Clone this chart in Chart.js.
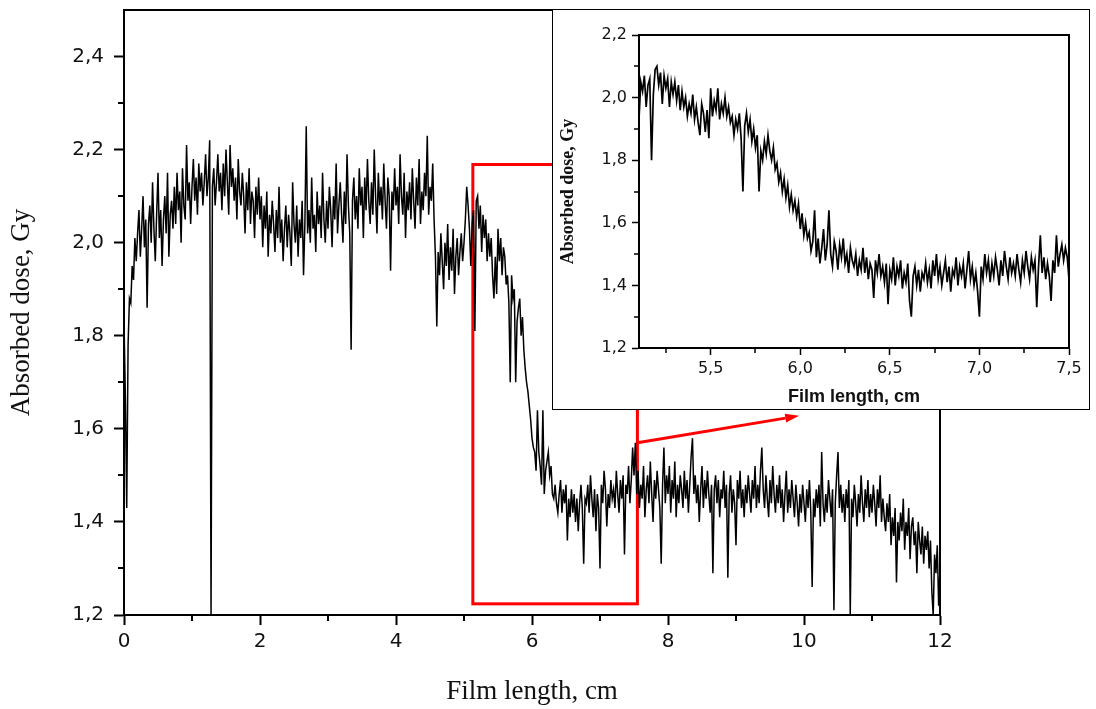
<!DOCTYPE html>
<html>
<head>
<meta charset="utf-8">
<script src="https://cdn.jsdelivr.net/npm/chart.js@4.4.1/dist/chart.umd.min.js"></script>
<style>
  html, body { margin: 0; padding: 0; background: #fff; }
  #wrap { position: relative; width: 1096px; height: 709px; }
  #mainChart { position: absolute; left: 0; top: 0; }
  #inset { position: absolute; left: 552px; top: 9px; width: 536px; height: 399px; border: 1px solid #000; background: #fff; }
  #insetChart { display: block; }
</style>
</head>
<body>
<div id="wrap">
  <canvas id="mainChart" width="1096" height="709"></canvas>
  <div id="inset"><canvas id="insetChart" width="536" height="399"></canvas></div>
</div>
<script>
// Main profile: absorbed dose (Gy) sampled every 0.02 cm from 0 to 12 cm
const mainStart = 0;
const mainStep = 0.02;
const mainDose = [
  1.83, 1.67, 1.43, 1.78, 1.88, 1.87, 1.95, 1.92, 2.01, 1.96,
  2.02, 2.07, 1.97, 2.03, 2.10, 1.99, 2.05, 1.86, 2.04, 2.08,
  2.00, 2.13, 2.03, 1.96, 2.06, 2.15, 2.01, 2.07, 1.95, 2.05,
  2.10, 2.02, 2.15, 1.97, 2.06, 2.09, 2.03, 2.12, 2.04, 2.15,
  2.07, 2.11, 2.00, 2.16, 2.08, 2.05, 2.21, 2.09, 2.13, 2.04,
  2.12, 2.18, 2.09, 2.14, 2.06, 2.17, 2.11, 2.15, 2.08, 2.13,
  2.19, 2.10, 2.14, 2.22, 1.20, 2.12, 2.16, 2.08, 2.13, 2.19,
  2.11, 2.15, 2.07, 2.17, 2.10, 2.20, 2.13, 2.06, 2.21, 2.12,
  2.16, 2.09, 2.14, 2.05, 2.18, 2.11, 2.08, 2.15, 2.10, 2.02,
  2.13, 2.07, 2.16, 2.04, 2.11, 2.09, 2.01, 2.12, 2.06, 2.14,
  2.05, 2.10, 1.99, 2.08, 2.03, 2.11, 1.97, 2.06, 2.02, 2.09,
  2.04, 1.98, 2.07, 2.01, 2.12, 2.00, 2.05, 1.96, 2.03, 2.08,
  1.99, 2.06, 2.02, 1.95, 2.13, 2.04, 2.00, 2.08, 1.97, 2.05,
  2.01, 2.09, 1.93, 2.04, 2.25, 2.02, 2.07, 2.00, 2.14, 2.03,
  2.06, 1.98, 2.11, 2.04, 2.08, 2.01, 2.15, 2.05, 2.00, 2.09,
  2.03, 2.12, 2.07, 1.99, 2.10, 2.05, 2.17, 2.02, 2.08, 2.13,
  2.06, 2.00, 2.11, 2.04, 2.19, 2.08, 2.02, 1.77, 2.09, 2.14,
  2.05, 2.10, 2.03, 2.16, 2.08, 2.12, 2.01, 2.14, 2.07, 2.18,
  2.09, 2.04, 2.13, 2.06, 2.20, 2.10, 2.02, 2.15, 2.08, 2.12,
  2.05, 2.17, 2.09, 2.03, 2.14, 2.10, 1.94, 2.11, 2.07, 2.16,
  2.08, 2.12, 2.04, 2.19, 2.10, 2.06, 2.15, 2.01, 2.11, 2.07,
  2.13, 2.05, 2.16, 2.09, 2.03, 2.14, 2.08, 2.18, 2.04, 2.11,
  2.07, 2.15, 2.10, 2.23, 2.06, 2.12, 2.09, 2.17, 2.05, 1.97,
  1.82, 1.98, 1.93, 2.02, 1.96, 1.90, 2.00, 1.95, 2.04, 1.92,
  1.99, 1.94, 2.03, 1.89, 1.97, 2.01, 1.93, 1.98, 2.02, 1.96,
  2.00, 2.05, 2.12, 2.08, 2.03, 1.95, 2.04, 2.07, 1.81, 2.09,
  2.10, 2.03, 2.08, 1.98, 2.06, 2.01, 2.05, 1.96, 2.02, 1.97,
  2.01, 1.93, 1.88, 1.97, 1.89, 2.03, 1.96, 2.01, 1.93, 1.99,
  1.97, 1.91, 1.93, 1.87, 1.70, 1.93, 1.88, 1.90, 1.70, 1.83,
  1.86, 1.88, 1.80, 1.84, 1.77, 1.73, 1.70, 1.68, 1.65, 1.62,
  1.58, 1.56, 1.55, 1.51, 1.64, 1.55, 1.52, 1.48, 1.64, 1.46,
  1.51, 1.53, 1.55, 1.50, 1.52, 1.46, 1.45, 1.48, 1.44, 1.42,
  1.46, 1.49, 1.42, 1.47, 1.44, 1.48, 1.36, 1.45, 1.41, 1.47,
  1.42, 1.46, 1.40, 1.45, 1.38, 1.44, 1.48, 1.43, 1.31, 1.45,
  1.44, 1.48, 1.42, 1.50, 1.45, 1.41, 1.47, 1.38, 1.46, 1.43,
  1.30, 1.48, 1.44, 1.51, 1.47, 1.39, 1.46, 1.43, 1.49, 1.45,
  1.47, 1.43, 1.51, 1.46, 1.42, 1.49, 1.45, 1.50, 1.33, 1.48,
  1.46, 1.52, 1.44, 1.49, 1.56, 1.50, 1.57, 1.46, 1.51, 1.43,
  1.48, 1.45, 1.52, 1.41, 1.47, 1.50, 1.44, 1.53, 1.46, 1.40,
  1.49, 1.45, 1.51, 1.47, 1.43, 1.31, 1.48, 1.56, 1.44, 1.50,
  1.46, 1.52, 1.42, 1.49, 1.45, 1.53, 1.41, 1.48, 1.44, 1.50,
  1.47, 1.43, 1.51, 1.45, 1.49, 1.42, 1.48, 1.54, 1.58, 1.46,
  1.50, 1.44, 1.48, 1.40, 1.47, 1.52, 1.43, 1.49, 1.45, 1.51,
  1.46, 1.42, 1.48, 1.29, 1.47, 1.50, 1.44, 1.49, 1.41, 1.47,
  1.45, 1.51, 1.43, 1.48, 1.28, 1.46, 1.50, 1.42, 1.47, 1.44,
  1.35, 1.49, 1.45, 1.51, 1.43, 1.47, 1.41, 1.48, 1.44, 1.50,
  1.46, 1.42, 1.49, 1.45, 1.52, 1.43, 1.48, 1.44, 1.51, 1.56,
  1.47, 1.43, 1.50, 1.45, 1.41, 1.49, 1.44, 1.52, 1.46, 1.42,
  1.48, 1.44, 1.50, 1.43, 1.47, 1.40, 1.46, 1.51, 1.42, 1.47,
  1.43, 1.49, 1.45, 1.41, 1.48, 1.44, 1.39, 1.46, 1.42, 1.48,
  1.44, 1.40, 1.47, 1.43, 1.49, 1.42, 1.26, 1.45, 1.41, 1.47,
  1.43, 1.48, 1.39, 1.55, 1.44, 1.40, 1.46, 1.42, 1.49, 1.45,
  1.41, 1.47, 1.21, 1.44, 1.50, 1.55, 1.43, 1.48, 1.42, 1.46,
  1.40, 1.47, 1.43, 1.49, 1.20, 1.45, 1.41, 1.48, 1.44, 1.39,
  1.46, 1.42, 1.50, 1.44, 1.40, 1.47, 1.43, 1.49, 1.41, 1.46,
  1.42, 1.48, 1.44, 1.39, 1.47, 1.43, 1.50, 1.40, 1.45, 1.41,
  1.38, 1.44, 1.40, 1.46, 1.35, 1.41, 1.37, 1.43, 1.27, 1.40,
  1.36, 1.42, 1.38, 1.45, 1.34, 1.40, 1.37, 1.43, 1.32, 1.39,
  1.41, 1.35, 1.38, 1.29, 1.40, 1.36, 1.33, 1.39, 1.31, 1.37,
  1.34, 1.38, 1.30, 1.36, 1.25, 1.20, 1.33, 1.29, 1.35, 1.22,
  1.30
];

// Inset profile: 5.1 .. 7.5 cm every 0.01 cm
const insetStart = 5.1;
const insetStep = 0.01;
const insetDose = [
  1.93, 2.05, 2.02, 2.07, 1.97, 2.04, 2.06, 1.80, 2.01, 2.09,
  2.10, 2.04, 2.08, 1.98, 2.07, 2.03, 2.06, 1.97, 2.05, 2.01,
  2.05, 1.99, 2.04, 1.96, 2.02, 1.97, 2.00, 1.94, 1.98, 1.95,
  2.01, 1.93, 1.97, 1.92, 1.88, 1.98, 1.95, 1.89, 1.96, 1.87,
  2.03, 1.94, 1.99, 1.96, 2.03, 1.93, 1.98, 1.95, 2.00, 1.94,
  1.97, 1.92, 1.94, 1.88, 1.93, 1.90, 1.95, 1.87, 1.70, 1.91,
  1.95, 1.89, 1.93, 1.86, 1.90, 1.84, 1.88, 1.70, 1.83, 1.80,
  1.86, 1.82, 1.88, 1.83, 1.80, 1.84, 1.77, 1.79, 1.73, 1.76,
  1.70, 1.74, 1.68, 1.72, 1.65, 1.69, 1.64, 1.67, 1.62, 1.66,
  1.58, 1.63, 1.56, 1.60, 1.55, 1.57, 1.51, 1.54, 1.64, 1.49,
  1.55, 1.47, 1.52, 1.58, 1.48, 1.53, 1.64, 1.50, 1.46, 1.54,
  1.51, 1.45, 1.53, 1.49, 1.55, 1.47, 1.50, 1.44, 1.52, 1.48,
  1.46, 1.50, 1.43, 1.48, 1.45, 1.52, 1.44, 1.49, 1.42, 1.47,
  1.45, 1.36, 1.48, 1.44, 1.50, 1.43, 1.46, 1.41, 1.47, 1.34,
  1.45, 1.42, 1.49, 1.40, 1.46, 1.43, 1.48, 1.39, 1.44, 1.41,
  1.47, 1.35, 1.30, 1.43, 1.46, 1.40, 1.45, 1.38, 1.44, 1.42,
  1.47, 1.41, 1.45, 1.39, 1.48, 1.43, 1.50, 1.42, 1.46, 1.40,
  1.44, 1.48, 1.41, 1.46, 1.38, 1.45, 1.43, 1.49, 1.40, 1.46,
  1.43, 1.47, 1.39, 1.45, 1.51, 1.42, 1.46, 1.40, 1.44, 1.38,
  1.30, 1.46, 1.42, 1.50, 1.44, 1.48, 1.41, 1.47, 1.43, 1.49,
  1.45, 1.40, 1.48, 1.43, 1.51, 1.46, 1.42, 1.49, 1.44, 1.47,
  1.43, 1.50, 1.45, 1.41, 1.48, 1.44, 1.51, 1.46, 1.42, 1.49,
  1.45, 1.48, 1.33, 1.46, 1.56, 1.44, 1.49, 1.42, 1.47, 1.43,
  1.35, 1.48, 1.44, 1.56, 1.46, 1.50, 1.53, 1.48, 1.52, 1.49,
  1.42
];

// Tick values and labels
const mainXTicks = [0, 2, 4, 6, 8, 10, 12];
const mainXLabels = ['0', '2', '4', '6', '8', '10', '12'];
const mainXMinor = [1, 3, 5, 7, 9, 11];
const mainYTicks = [1.2, 1.4, 1.6, 1.8, 2.0, 2.2, 2.4];
const mainYLabels = ['1,2', '1,4', '1,6', '1,8', '2,0', '2,2', '2,4'];
const mainYMinor = [1.3, 1.5, 1.7, 1.9, 2.1, 2.3];

const insetXTicks = [5.5, 6.0, 6.5, 7.0, 7.5];
const insetXLabels = ['5,5', '6,0', '6,5', '7,0', '7,5'];
const insetXMinor = [5.25, 5.75, 6.25, 6.75, 7.25];
const insetYTicks = [1.2, 1.4, 1.6, 1.8, 2.0, 2.2];
const insetYLabels = ['1,2', '1,4', '1,6', '1,8', '2,0', '2,2'];
const insetYMinor = [1.3, 1.5, 1.7, 1.9, 2.1];

// Red zoom marker (data coordinates): box [x0, x1, y0, y1] and arrow from -> to
const zoomBox = [5.13, 7.55, 1.224, 2.168];
const arrowFrom = [7.55, 1.57];
const arrowTo = [9.93, 1.628];

function toPoints(start, step, values) {
  return values.map((v, i) => ({ x: +(start + i * step).toFixed(2), y: v }));
}

// frame around the plot area + short minor ticks
const frameTicks = {
  id: 'frameTicks',
  afterDraw(chart, args, opts) {
    const { ctx, chartArea: a, scales: { x, y } } = chart;
    ctx.save();
    ctx.strokeStyle = '#000';
    ctx.lineWidth = opts.width;
    ctx.strokeRect(a.left, a.top, a.right - a.left, a.bottom - a.top);
    ctx.lineWidth = opts.minorWidth;
    ctx.beginPath();
    opts.xMinor.forEach(v => {
      const px = Math.round(x.getPixelForValue(v));
      ctx.moveTo(px, a.bottom);
      ctx.lineTo(px, a.bottom + opts.minorLen);
    });
    opts.yMinor.forEach(v => {
      const py = Math.round(y.getPixelForValue(v));
      ctx.moveTo(a.left, py);
      ctx.lineTo(a.left - opts.minorLen, py);
    });
    ctx.stroke();
    ctx.restore();
  }
};

const zoomMark = {
  id: 'zoomMark',
  beforeDatasetsDraw(chart) {
    const { ctx, scales: { x, y } } = chart;
    const l = x.getPixelForValue(zoomBox[0]), r = x.getPixelForValue(zoomBox[1]);
    const b = y.getPixelForValue(zoomBox[2]), t = y.getPixelForValue(zoomBox[3]);
    ctx.save();
    ctx.strokeStyle = '#ff0000';
    ctx.fillStyle = '#ff0000';
    ctx.lineWidth = 3;
    ctx.strokeRect(l, t, r - l, b - t);
    const x0 = x.getPixelForValue(arrowFrom[0]), y0 = y.getPixelForValue(arrowFrom[1]);
    const x1 = x.getPixelForValue(arrowTo[0]), y1 = y.getPixelForValue(arrowTo[1]);
    const ang = Math.atan2(y1 - y0, x1 - x0);
    const head = 14;
    ctx.beginPath();
    ctx.moveTo(x0, y0);
    ctx.lineTo(x1 - head * Math.cos(ang), y1 - head * Math.sin(ang));
    ctx.stroke();
    ctx.beginPath();
    ctx.moveTo(x1, y1);
    ctx.lineTo(x1 - head * Math.cos(ang) + 4.5 * Math.sin(ang), y1 - head * Math.sin(ang) - 4.5 * Math.cos(ang));
    ctx.lineTo(x1 - head * Math.cos(ang) - 4.5 * Math.sin(ang), y1 - head * Math.sin(ang) + 4.5 * Math.cos(ang));
    ctx.closePath();
    ctx.fill();
    ctx.restore();
  }
};

// Main chart
new Chart(document.getElementById('mainChart').getContext('2d'), {
  type: 'line',
  data: {
    datasets: [{
      data: toPoints(mainStart, mainStep, mainDose),
      borderColor: '#000',
      borderWidth: 1.5,
      pointRadius: 0,
      tension: 0
    }]
  },
  options: {
    responsive: false,
    animation: false,
    devicePixelRatio: 1,
    layout: { padding: { left: 0, top: 10, right: 156, bottom: 0 } },
    plugins: {
      legend: { display: false },
      tooltip: { enabled: false },
      frameTicks: { width: 2, minorWidth: 2, minorLen: 6, xMinor: mainXMinor, yMinor: mainYMinor }
    },
    scales: {
      x: {
        type: 'linear', min: 0, max: 12,
        afterBuildTicks: s => { s.ticks = mainXTicks.map(v => ({ value: v })); },
        afterFit: s => { s.height = 94; s.paddingLeft = 0; s.paddingRight = 0; },
        border: { color: '#000', width: 2 },
        grid: { drawOnChartArea: false, tickLength: 10, tickWidth: 2, tickColor: '#000' },
        ticks: {
          color: '#111', padding: 5, maxRotation: 0, autoSkip: false,
          font: { family: 'DejaVu Sans', size: 20 },
          callback: (v, i) => mainXLabels[i]
        },
        title: {
          display: true, text: 'Film length, cm', color: '#111',
          font: { family: 'Liberation Serif', size: 27 },
          padding: { top: 0, bottom: 1 }
        }
      },
      y: {
        type: 'linear', min: 1.2, max: 2.5,
        afterBuildTicks: s => { s.ticks = mainYTicks.map(v => ({ value: v })); },
        afterFit: s => { s.width = 124; s.paddingTop = 0; s.paddingBottom = 0; },
        border: { color: '#000', width: 2 },
        grid: { drawOnChartArea: false, tickLength: 10, tickWidth: 2, tickColor: '#000' },
        ticks: {
          color: '#111', padding: 10, autoSkip: false,
          font: { family: 'DejaVu Sans', size: 20 },
          callback: (v, i) => mainYLabels[i]
        },
        title: {
          display: true, text: 'Absorbed dose, Gy', color: '#111',
          font: { family: 'Liberation Serif', size: 27 },
          padding: { top: 6, bottom: 0 }
        }
      }
    }
  },
  plugins: [zoomMark, frameTicks]
});

// Inset chart
new Chart(document.getElementById('insetChart').getContext('2d'), {
  type: 'line',
  data: {
    datasets: [{
      data: toPoints(insetStart, insetStep, insetDose),
      borderColor: '#000',
      borderWidth: 1.7,
      pointRadius: 0,
      tension: 0
    }]
  },
  options: {
    responsive: false,
    animation: false,
    devicePixelRatio: 1,
    layout: { padding: { left: 0, top: 25, right: 20, bottom: 0 } },
    plugins: {
      legend: { display: false },
      tooltip: { enabled: false },
      frameTicks: { width: 2, minorWidth: 1.5, minorLen: 5, xMinor: insetXMinor, yMinor: insetYMinor }
    },
    scales: {
      x: {
        type: 'linear', min: 5.1, max: 7.5,
        afterBuildTicks: s => { s.ticks = insetXTicks.map(v => ({ value: v })); },
        afterFit: s => { s.height = 61; s.paddingLeft = 0; s.paddingRight = 0; },
        border: { color: '#000', width: 2 },
        grid: { drawOnChartArea: false, tickLength: 7, tickWidth: 1.5, tickColor: '#000' },
        ticks: {
          color: '#111', padding: 4, maxRotation: 0, autoSkip: false,
          font: { family: 'DejaVu Sans', size: 16 },
          callback: (v, i) => insetXLabels[i]
        },
        title: {
          display: true, text: 'Film length, cm', color: '#111',
          font: { family: 'Liberation Sans', size: 18, weight: 'bold' },
          padding: { top: 0, bottom: 1 }
        }
      },
      y: {
        type: 'linear', min: 1.2, max: 2.2,
        afterBuildTicks: s => { s.ticks = insetYTicks.map(v => ({ value: v })); },
        afterFit: s => { s.width = 86; s.paddingTop = 0; s.paddingBottom = 0; },
        border: { color: '#000', width: 2 },
        grid: { drawOnChartArea: false, tickLength: 7, tickWidth: 1.5, tickColor: '#000' },
        ticks: {
          color: '#111', padding: 5, autoSkip: false,
          font: { family: 'DejaVu Sans', size: 16 },
          callback: (v, i) => insetYLabels[i]
        },
        title: {
          display: true, text: 'Absorbed dose, Gy', color: '#111',
          font: { family: 'Liberation Serif', size: 18, weight: 'bold' },
          padding: { top: 5, bottom: 0 }
        }
      }
    }
  },
  plugins: [frameTicks]
});
</script>
</body>
</html>
